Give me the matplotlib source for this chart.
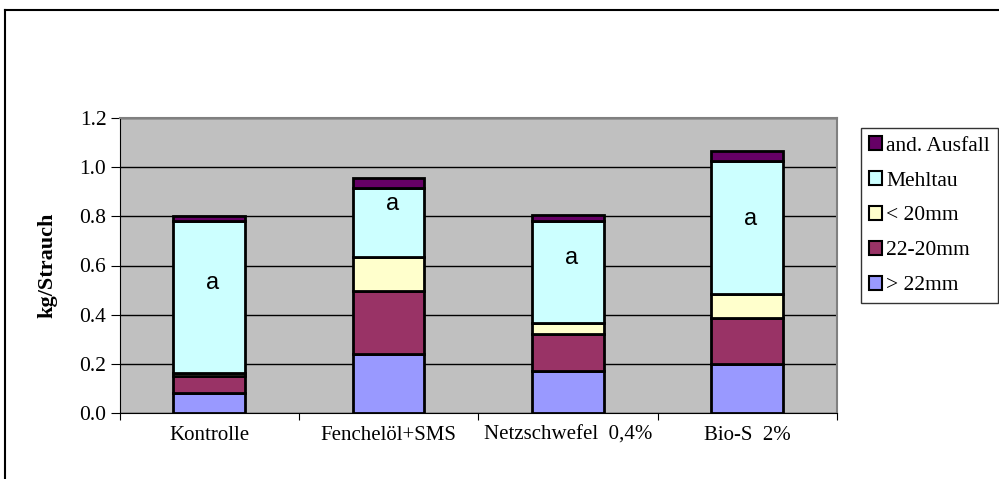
import matplotlib
matplotlib.use("Agg")
import matplotlib.pyplot as plt
from matplotlib.lines import Line2D
from matplotlib.patches import Patch

categories = ["Kontrolle", "Fenchelöl+SMS", "Netzschwefel  0,4%", "Bio-S  2%"]
series_names = ["> 22mm", "22-20mm", "< 20mm", "Mehltau", "and. Ausfall"]
gt22 = [0.08, 0.24, 0.17, 0.20]
s22_20 = [0.07, 0.255, 0.15, 0.185]
lt20 = [0.012, 0.14, 0.046, 0.10]
mehltau = [0.618, 0.28, 0.414, 0.542]
ausfall = [0.02, 0.04, 0.025, 0.04]
letters = ["a", "a", "a", "a"]
letter_y = [0.53, 0.85, 0.63, 0.79]
colors = ["#9999FF", "#993366", "#FFFFCC", "#CCFFFF", "#660066"]

W, H = 999, 479
fig = plt.figure(figsize=(W / 100, H / 100), dpi=100)
serif = ["Liberation Serif", "DejaVu Serif"]
sans = ["Liberation Sans", "DejaVu Sans"]

ax = fig.add_axes([119.5 / W, (H - 413) / H, (837 - 119.5) / W, (413 - 118) / H])
ax.set_facecolor("#C0C0C0")

series = [gt22, s22_20, lt20, mehltau, ausfall]
x = list(range(len(categories)))
bottom = [0.0] * len(categories)
for vals, col, name in zip(series, colors, series_names):
    ax.bar(x, vals, width=0.4, bottom=bottom, color=col, edgecolor="black",
           linewidth=2, label=name, zorder=3)
    bottom = [b + v for b, v in zip(bottom, vals)]

for xi, t, ty in zip(x, letters, letter_y):
    ax.text(xi + 0.02, ty, t, ha="center", va="center", fontsize=17,
            family=sans, zorder=4)

ax.set_xlim(-0.5, len(categories) - 0.5)
ax.set_ylim(0, 1.2)
ax.set_yticks([0.0, 0.2, 0.4, 0.6, 0.8, 1.0, 1.2])
ax.set_yticklabels([f"{v:.1f}" for v in [0.0, 0.2, 0.4, 0.6, 0.8, 1.0, 1.2]],
                   family=serif, fontsize=15.5)
ax.yaxis.grid(True, color="black", linewidth=1, zorder=1)
ax.set_axisbelow(True)
ax.set_xticks([i - 0.5 for i in range(len(categories) + 1)])
ax.set_xticklabels([])
ax.set_xticks(x, minor=True)
ax.set_xticklabels(categories, minor=True, family=serif, fontsize=15)
ax.tick_params(axis="x", which="minor", length=0, pad=9)
ax.tick_params(axis="x", which="major", length=5, direction="out", color="black")
ax.tick_params(axis="y", length=6.5, direction="out", color="black", pad=3)
for side in ["top", "right"]:
    ax.spines[side].set_color("#808080")
    ax.spines[side].set_linewidth(1.5)
ax.spines["left"].set_color("black")
ax.spines["bottom"].set_color("black")
ax.set_ylabel("kg/Strauch", family=serif, fontsize=16, fontweight="bold", labelpad=16)

handles = [Patch(facecolor=c, edgecolor="black", linewidth=1.5) for c in colors][::-1]
leg = fig.legend(handles, series_names[::-1], loc="upper left",
                 bbox_to_anchor=(861 / W, 1 - 128 / H), borderaxespad=0,
                 frameon=True, fancybox=False, edgecolor="black",
                 prop={"family": serif, "size": 15.5}, handlelength=0.6,
                 handleheight=0.6, handletextpad=0.2, labelspacing=0.72,
                 borderpad=0.38)
leg.get_frame().set_linewidth(1)

fig.add_artist(Line2D([5 / W, 5 / W], [0, 1 - 10 / H], color="black", linewidth=1.5,
                      transform=fig.transFigure))
fig.add_artist(Line2D([5 / W, 1], [1 - 10 / H, 1 - 10 / H], color="black", linewidth=1.5,
                      transform=fig.transFigure))

fig.savefig("out.png", dpi=100)
